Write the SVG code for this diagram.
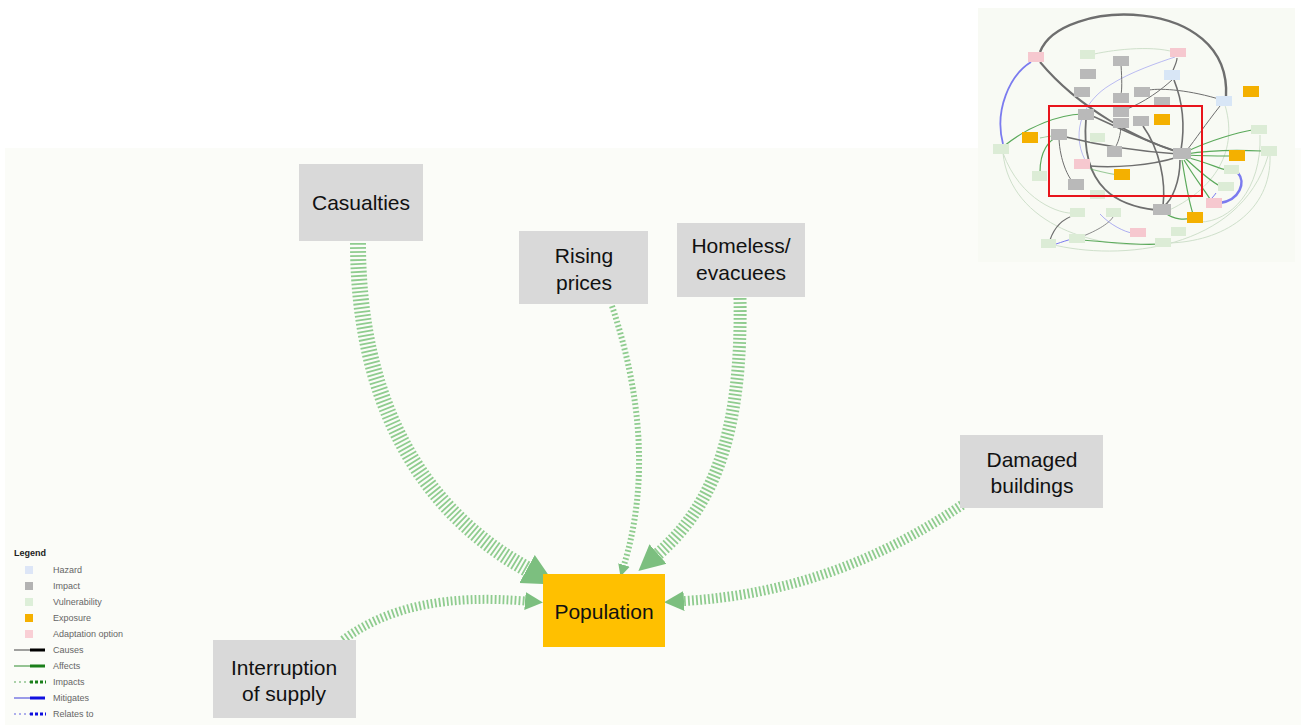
<svg xmlns="http://www.w3.org/2000/svg" width="1301" height="725" viewBox="0 0 1301 725">
  <defs>
    <style>
      .node rect { fill: #d9d9d9; }
      .node text, .expo text { font-family: "Liberation Sans", Arial, sans-serif; font-size: 21px; fill: #111; text-anchor: middle; }
      .expo rect { fill: #ffc000; }
      .impacts { fill: none; stroke: #8fcc8f; stroke-dasharray: 1.8 2.2; marker-end: url(#head); }
      .leg { font-family: "Liberation Sans", Arial, sans-serif; font-size: 9px; fill: #666; }
      .mini-n { stroke: none; }
      .mg { fill: #b9b9b9; }
      .mv { fill: #dcecd6; }
      .mh { fill: #d8e6f6; }
      .me { fill: #f4b000; }
      .ma { fill: #f6c8cf; }
      .me-dark { fill: none; stroke: #6e6e6e; }
      .me-grn { fill: none; stroke: #5aa95a; stroke-width: 1.2; }
      .me-lite { fill: none; stroke: #cfe0cb; stroke-width: 1; }
      .me-blu { fill: none; stroke: #7b7bef; }
    </style>
    <marker id="head" viewBox="0 0 10 10" refX="0" refY="5" markerWidth="2" markerHeight="2.4" orient="auto" markerUnits="strokeWidth">
      <path d="M0,0 L10,5 L0,10 z" fill="#7cbf7f"/>
    </marker>
  </defs>

  <!-- canvas -->
  <rect x="0" y="0" width="1301" height="725" fill="#ffffff"/>
  <rect x="5" y="148" width="1296" height="577" fill="#fbfcf8"/>

  <!-- overview map -->
  <g id="overview">
    <rect x="978" y="8" width="317" height="254" fill="#f8faf4"/>
    <g id="overview-links">
      <path class="me-lite" d="M1003,153 C1010,225 1100,252 1160,243"/>
      <path class="me-lite" d="M1270,155 C1272,212 1222,242 1168,243"/>
      <path class="me-lite" d="M1260,135 C1262,190 1230,222 1200,222"/>
      <path class="me-lite" d="M1003,153 C1020,200 1060,215 1075,213"/>
      <path class="me-lite" d="M1090,55 C1110,50 1150,45 1174,52"/>
      <path class="me-lite" d="M1224,102 C1240,150 1215,190 1165,212"/>
      <path class="me-lite" d="M1050,244 C1120,262 1240,250 1268,156"/>
      <path class="me-blu" stroke-width="1" opacity="0.5" d="M1085,160 C1070,130 1085,100 1110,85 C1130,72 1160,62 1175,57"/>
      <path class="me-dark" stroke-width="2.4" d="M1040,52 C1060,-2 1232,-6 1226,97"/>
      <path class="me-blu" stroke-width="1.8" d="M1003,144 C994,110 1010,75 1031,62"/>
      <path class="me-dark" stroke-width="2" d="M1040,62 C1080,110 1140,140 1178,152"/>
      <path class="me-dark" stroke-width="1.6" d="M1178,152 C1140,140 1112,124 1092,116"/>
      <path class="me-dark" stroke-width="1.6" d="M1180,160 C1180,182 1172,200 1164,206"/>
      <path class="me-dark" stroke-width="1.8" d="M1086,119 C1080,190 1120,206 1156,210"/>
      <path class="me-dark" stroke-width="1.6" d="M1143,126 C1160,150 1166,182 1163,206"/>
      <path class="me-dark" stroke-width="1.6" d="M1181,150 C1186,120 1180,95 1174,80"/>
      <path class="me-dark" stroke-width="1.4" d="M1178,157 C1150,166 1112,168 1090,166"/>
      <path class="me-dark" stroke-width="1.4" d="M1178,154 C1120,150 1082,141 1066,137"/>
      <path class="me-dark" stroke-width="1" d="M1222,100 C1190,90 1162,88 1149,90"/>
      <path class="me-dark" stroke-width="1" d="M1220,106 C1205,125 1195,140 1187,150"/>
      <path class="me-dark" stroke-width="1" d="M1121,127 C1120,140 1116,146 1115,148"/>
      <path class="me-dark" stroke-width="1" d="M1059,139 C1060,160 1068,178 1074,183"/>
      <path class="me-dark" stroke-width="1" d="M1121,65 C1122,80 1122,90 1121,94"/>
      <path class="me-dark" stroke-width="1" d="M1172,80 C1150,100 1130,108 1124,110"/>
      <path class="me-dark" stroke-width="1.2" d="M1050,240 C1055,225 1065,218 1075,215"/>
      <path class="me-dark" stroke-width="0.8" d="M1078,238 C1100,230 1110,222 1113,217"/>
      <path class="me-dark" stroke-width="1.2" d="M1172,73 C1175,65 1177,62 1177,58"/>
      <path class="me-grn" d="M1186,152 C1210,140 1240,132 1252,130"/>
      <path class="me-grn" d="M1186,154 C1210,150 1240,150 1262,151"/>
      <path class="me-grn" d="M1186,155 C1205,156 1220,156 1230,156"/>
      <path class="me-grn" d="M1186,157 C1205,162 1218,168 1226,170"/>
      <path class="me-grn" d="M1185,158 C1200,172 1212,182 1220,186"/>
      <path class="me-grn" d="M1184,160 C1196,180 1206,192 1210,199"/>
      <path class="me-grn" d="M1182,160 C1186,185 1190,205 1193,214"/>
      <path class="me-grn" d="M1004,146 C1030,125 1060,115 1082,114"/>
      <path class="me-grn" d="M1040,172 C1040,150 1050,140 1056,138"/>
      <path class="me-grn" d="M1080,240 C1110,242 1140,246 1160,244"/>
      <path class="me-grn" d="M1165,213 C1175,220 1185,220 1190,218"/>
      <path class="me-grn" opacity="0.6" d="M1088,168 C1100,172 1112,174 1118,175"/>
      <path class="me-grn" opacity="0.6" d="M1040,138 C1045,137 1050,136 1052,136"/>
      <path class="me-blu" stroke-width="2.6" d="M1220,203 C1240,200 1246,182 1238,173"/>
      <path class="me-blu" stroke-width="1" d="M1056,244 C1062,242 1068,240 1072,239"/>
      <path class="me-blu" stroke-width="1" d="M1209,201 C1212,198 1214,196 1216,193"/>
      <path class="me-blu" stroke-width="1" opacity="0.6" d="M1100,214 C1110,225 1125,232 1132,233"/>
    </g>
    <g id="overview-nodes" class="mini-n">
      <rect class="ma" x="1028" y="52" width="16" height="10"/>
      <rect class="mv" x="1080" y="50" width="15" height="9"/>
      <rect class="mg" x="1113" y="56" width="16" height="10"/>
      <rect class="ma" x="1170" y="48" width="16" height="9"/>
      <rect class="mg" x="1080" y="69" width="16" height="10"/>
      <rect class="mh" x="1164" y="70" width="16" height="10"/>
      <rect class="mg" x="1074" y="87" width="16" height="10"/>
      <rect class="mg" x="1113" y="93" width="16" height="10"/>
      <rect class="mg" x="1134" y="87" width="16" height="10"/>
      <rect class="mg" x="1154" y="97" width="16" height="10"/>
      <rect class="mh" x="1216" y="96" width="16" height="10"/>
      <rect class="me" x="1243" y="86" width="16" height="11"/>
      <rect class="mg" x="1078" y="109" width="16" height="11"/>
      <rect class="mg" x="1113" y="107" width="16" height="10"/>
      <rect class="mg" x="1113" y="118" width="16" height="10"/>
      <rect class="mg" x="1133" y="116" width="16" height="10"/>
      <rect class="me" x="1154" y="114" width="16" height="11"/>
      <rect class="mg" x="1051" y="129" width="16" height="11"/>
      <rect class="me" x="1022" y="132" width="16" height="11"/>
      <rect class="mv" x="993" y="144" width="16" height="10"/>
      <rect class="mv" x="1090" y="133" width="15" height="9"/>
      <rect class="mg" x="1107" y="146" width="15" height="11"/>
      <rect class="mg" x="1173" y="148" width="18" height="11"/>
      <rect class="mv" x="1251" y="125" width="16" height="9"/>
      <rect class="mv" x="1261" y="146" width="16" height="10"/>
      <rect class="me" x="1229" y="150" width="16" height="11"/>
      <rect class="ma" x="1074" y="159" width="16" height="10"/>
      <rect class="me" x="1114" y="169" width="16" height="11"/>
      <rect class="mv" x="1032" y="171" width="15" height="10"/>
      <rect class="mg" x="1068" y="179" width="16" height="11"/>
      <rect class="mv" x="1224" y="165" width="15" height="9"/>
      <rect class="mv" x="1218" y="182" width="16" height="9"/>
      <rect class="mv" x="1090" y="190" width="15" height="9"/>
      <rect class="ma" x="1206" y="198" width="16" height="10"/>
      <rect class="mg" x="1153" y="204" width="18" height="11"/>
      <rect class="me" x="1187" y="212" width="16" height="11"/>
      <rect class="mv" x="1070" y="208" width="15" height="9"/>
      <rect class="mv" x="1106" y="208" width="15" height="9"/>
      <rect class="ma" x="1130" y="228" width="16" height="9"/>
      <rect class="mv" x="1171" y="227" width="15" height="9"/>
      <rect class="mv" x="1069" y="234" width="16" height="9"/>
      <rect class="mv" x="1041" y="239" width="15" height="9"/>
      <rect class="mv" x="1155" y="238" width="16" height="9"/>
    </g>
    <rect x="1049" y="106" width="153" height="90" fill="none" stroke="#e8141b" stroke-width="2"/>
  </g>

  <!-- connectors -->
  <g id="connectors">
    <path class="impacts" stroke-width="16" d="M358,243 C358,400 420,510 527,569"/>
    <path class="impacts" stroke-width="6" stroke-dasharray="2 3" d="M612,306 C640,390 650,480 624,565"/>
    <path class="impacts" stroke-width="13" d="M740,298 C742,420 720,500 658,554"/>
    <path class="impacts" stroke-width="10" d="M962,505 C880,560 790,595 684,601"/>
    <path class="impacts" stroke-width="9" d="M343,640 C390,605 450,595 525,601"/>
  </g>

  <!-- nodes -->
  <g id="casualties" class="node">
    <rect x="299" y="164" width="124" height="77"/>
    <text x="361" y="210">Casualties</text>
  </g>
  <g id="rising-prices" class="node">
    <rect x="519" y="231" width="129" height="73"/>
    <text x="584" y="263">Rising</text>
    <text x="584" y="290">prices</text>
  </g>
  <g id="homeless" class="node">
    <rect x="677" y="223" width="128" height="74"/>
    <text x="741" y="253">Homeless/</text>
    <text x="741" y="280">evacuees</text>
  </g>
  <g id="damaged-buildings" class="node">
    <rect x="960" y="435" width="143" height="73"/>
    <text x="1032" y="467">Damaged</text>
    <text x="1032" y="493">buildings</text>
  </g>
  <g id="interruption" class="node">
    <rect x="213" y="640" width="143" height="78"/>
    <text x="284" y="675">Interruption</text>
    <text x="284" y="701">of supply</text>
  </g>
  <g id="population" class="expo">
    <rect x="543" y="574" width="122" height="73"/>
    <text x="604" y="619">Population</text>
  </g>

  <!-- legend -->
  <g id="legend">
    <text x="14" y="556" font-family="Liberation Sans, Arial, sans-serif" font-size="9" font-weight="bold" fill="#222">Legend</text>
    <rect x="25" y="566" width="8" height="8" fill="#dde6f7"/>
    <text class="leg" x="53" y="573">Hazard</text>
    <rect x="25" y="582" width="8" height="8" fill="#b3b3b3"/>
    <text class="leg" x="53" y="589">Impact</text>
    <rect x="25" y="598" width="8" height="8" fill="#ddefd9"/>
    <text class="leg" x="53" y="605">Vulnerability</text>
    <rect x="25" y="614" width="8" height="8" fill="#f5b000"/>
    <text class="leg" x="53" y="621">Exposure</text>
    <rect x="25" y="630" width="8" height="8" fill="#f9cfd5"/>
    <text class="leg" x="53" y="637">Adaptation option</text>
    <line x1="14" y1="650" x2="30" y2="650" stroke="#444" stroke-width="1"/>
    <line x1="30" y1="650" x2="45" y2="650" stroke="#000" stroke-width="3"/>
    <text class="leg" x="53" y="653">Causes</text>
    <line x1="14" y1="666" x2="30" y2="666" stroke="#2e8b2e" stroke-width="1"/>
    <line x1="30" y1="666" x2="45" y2="666" stroke="#1a7f1a" stroke-width="3"/>
    <text class="leg" x="53" y="669">Affects</text>
    <line x1="14" y1="682" x2="30" y2="682" stroke="#5aa55a" stroke-width="1.2" stroke-dasharray="2 3"/>
    <line x1="30" y1="682" x2="46" y2="682" stroke="#1a7f1a" stroke-width="3" stroke-dasharray="3 2"/>
    <text class="leg" x="53" y="685">Impacts</text>
    <line x1="14" y1="698" x2="30" y2="698" stroke="#3a3ad8" stroke-width="1"/>
    <line x1="30" y1="698" x2="45" y2="698" stroke="#1010e0" stroke-width="3"/>
    <text class="leg" x="53" y="701">Mitigates</text>
    <line x1="14" y1="714" x2="30" y2="714" stroke="#6060e0" stroke-width="1.2" stroke-dasharray="2 3"/>
    <line x1="30" y1="714" x2="46" y2="714" stroke="#1010e0" stroke-width="3" stroke-dasharray="3 2"/>
    <text class="leg" x="53" y="717">Relates to</text>
  </g>
</svg>
